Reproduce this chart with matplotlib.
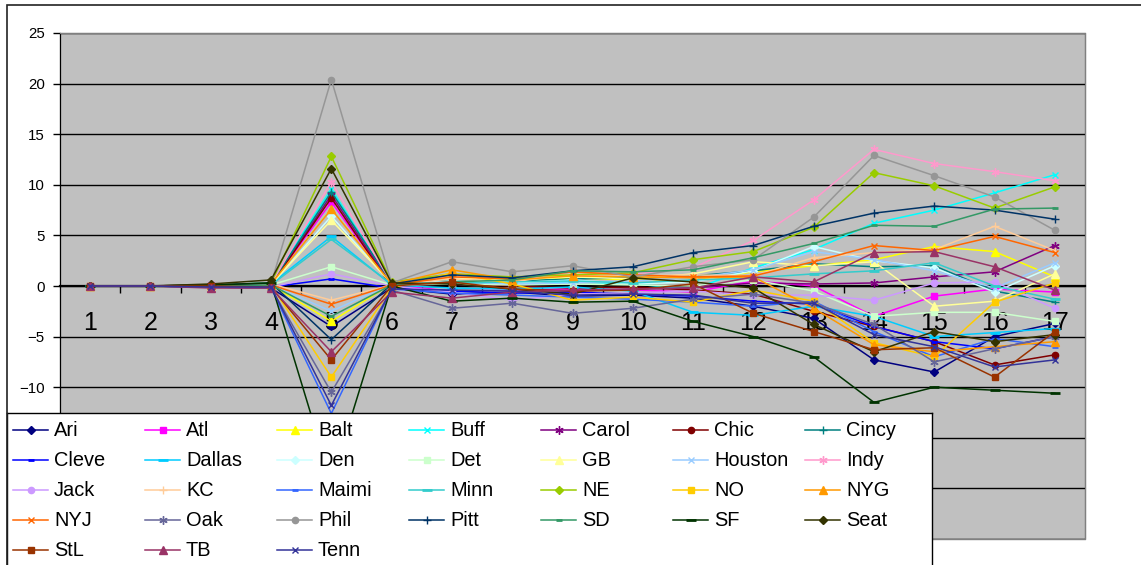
import matplotlib.pyplot as plt
from matplotlib import font_manager
from matplotlib.patches import Rectangle

plt.rcParams["font.family"] = ["Liberation Sans", "DejaVu Sans"]

W, H = 1141, 565

weeks = list(range(1, 18))

teams = ["Ari", "Atl", "Balt", "Buff", "Carol", "Chic", "Cincy",
         "Cleve", "Dallas", "Den", "Det", "GB", "Houston", "Indy",
         "Jack", "KC", "Maimi", "Minn", "NE", "NO", "NYG",
         "NYJ", "Oak", "Phil", "Pitt", "SD", "SF", "Seat",
         "StL", "TB", "Tenn"]

ari = [0, 0, -0.1, -0.2, -4.0, -0.2, -0.8, -0.6, -1.0, -0.9, -1.2, -2.0, -3.2, -7.3, -8.5, -5.0, -3.7]
atl = [0, 0, 0.1, 0.2, 8.3, 0.1, -0.5, -0.4, -0.3, -0.4, -0.6, 0.5, 0.0, -3.0, -1.0, -0.3, -0.6]
balt = [0, 0, 0, 0.1, -3.5, 0.2, 1.0, 0.5, 0.8, 0.6, 0.5, 1.4, 2.0, 2.6, 3.9, 3.4, 0.9]
buff = [0, 0, 0.1, 0.3, 9.6, 0.2, 0.3, 0.1, 0.4, 0.2, -0.3, 1.8, 3.6, 6.2, 7.5, 9.2, 11.0]
carol = [0, 0, 0, 0.1, 9.0, 0.1, 0.2, -0.3, -0.5, -0.3, -0.2, 0.3, 0.2, 0.3, 0.9, 1.4, 4.0]
chic = [0, 0, 0, 0.1, 8.7, -0.1, 0.3, 0.0, -0.2, -0.1, -0.4, -0.8, -2.5, -4.0, -5.5, -7.8, -6.8]
cincy = [0, 0, 0.1, 0.2, 9.3, 0.3, 0.6, 0.5, 0.7, 0.8, 1.0, 1.5, 2.2, 1.9, 2.0, -0.5, -1.6]
cleve = [0, 0, -0.1, -0.1, 0.7, -0.2, -0.5, -0.7, -0.6, -0.8, -1.0, -1.5, -1.8, -4.0, -5.5, -6.2, -5.0]
dallas = [0, 0, 0, 0.2, 4.9, 0.1, -0.2, -0.3, -0.1, -0.5, -2.6, -2.9, -2.0, -3.0, -5.0, -4.6, -4.2]
den = [0, 0, 0, 0.1, 6.9, 0.2, 0.5, 0.3, 0.6, 0.2, 0.4, 1.5, 3.9, 2.5, 1.8, -0.6, 2.0]
det = [0, 0, 0, 0.1, 1.9, 0.1, 0.2, 0.1, 0.2, 0.1, 0.0, 0.6, -0.5, -3.0, -2.6, -2.6, -3.5]
gb = [0, 0, 0, 0.2, 6.5, 0.3, 0.8, 0.6, 0.9, 0.7, 1.2, 2.4, 2.0, 2.4, -2.0, -1.5, 1.2]
houston = [0, 0, 0, 0.1, -2.5, 0.2, 0.4, 0.2, 0.3, 0.5, 0.8, 1.6, 3.4, 2.6, 1.5, -0.2, 2.3]
indy = [0, 0, 0.1, 0.2, 10.3, 0.3, 0.9, 0.8, 1.0, 1.2, 1.8, 4.5, 8.5, 13.5, 12.1, 11.3, 10.4]
jack = [0, 0, 0, -0.1, 1.2, 0.0, -0.6, -1.4, -0.8, -0.7, -0.5, -0.9, -0.9, -1.4, 0.3, 0.4, -2.2]
kc = [0, 0, 0.1, 0.2, -1.4, 0.1, 0.7, 0.4, 1.2, 1.0, 1.1, 1.0, 2.8, 3.3, 3.6, 5.9, 3.5]
maimi = [0, 0, -0.1, -0.2, -12.6, -0.3, -0.7, -0.9, -1.1, -1.3, -1.6, -2.0, -1.5, -4.5, -7.0, -5.2, -6.0]
minn = [0, 0, 0, 0.1, 4.6, 0.2, 0.3, 0.4, 0.5, 0.3, 0.6, 0.8, 1.2, 1.5, 2.3, 0.0, -1.3]
ne = [0, 0, 0.1, 0.3, 12.8, 0.4, 1.2, 0.9, 1.1, 1.3, 2.6, 3.4, 5.8, 11.2, 9.9, 7.7, 9.8]
no = [0, 0, 0, 0.1, -9.0, -0.2, 1.3, 0.2, -1.4, -1.1, -1.6, -0.4, -1.5, -5.6, -7.0, -1.6, 0.3]
nyg = [0, 0, 0.1, 0.2, 7.6, 0.2, 1.6, 0.6, 1.0, 0.9, 0.8, 0.9, -2.2, -5.8, -6.5, -6.0, -5.5]
nyj = [0, 0, 0, 0.1, -1.8, 0.1, 0.9, 0.7, 1.4, 1.1, 0.9, 1.0, 2.4, 4.0, 3.5, 4.9, 3.3]
oak = [0, 0, -0.1, -0.2, -10.5, -0.4, -2.2, -1.7, -2.7, -2.2, -1.3, -0.8, -1.7, -3.8, -7.5, -6.2, -5.0]
phil = [0, 0, 0.1, 0.2, 20.4, 0.3, 2.4, 1.4, 2.0, 0.9, 1.9, 2.6, 6.8, 12.9, 10.9, 8.8, 5.5]
pitt = [0, 0, 0.1, 0.3, -5.3, 0.2, 1.1, 0.8, 1.5, 1.9, 3.3, 4.0, 5.9, 7.2, 7.9, 7.5, 6.6]
sd = [0, 0, 0, 0.1, -3.0, 0.1, 0.4, 0.6, 1.5, 1.4, 1.6, 2.8, 4.2, 6.0, 5.9, 7.6, 7.7]
sf = [0, 0, 0.1, 0.3, -19.3, 0.0, -1.5, -1.2, -1.6, -1.5, -3.5, -5.0, -7.0, -11.5, -10.0, -10.3, -10.6]
seat = [0, 0, 0.2, 0.6, 11.6, 0.3, 0.2, -0.3, -0.8, 0.8, 0.4, -0.2, -3.8, -6.5, -4.5, -5.5, -4.8]
stl = [0, 0, 0, -0.1, -7.3, 0.0, 0.4, -0.3, -0.5, -0.4, 0.2, -2.7, -4.5, -6.3, -6.1, -9.0, -4.5]
tb = [0, 0, -0.2, -0.2, -6.5, -0.6, -1.2, -0.6, -0.4, -0.3, -0.2, 0.9, 0.4, 3.3, 3.4, 1.9, -0.4]
tenn = [0, 0, -0.1, -0.1, -11.8, -0.3, -0.4, -0.5, -0.9, -0.8, -0.9, -1.7, -1.7, -4.8, -6.0, -8.0, -7.3]

series = [ari, atl, balt, buff, carol, chic, cincy, cleve, dallas, den, det,
          gb, houston, indy, jack, kc, maimi, minn, ne, no, nyg, nyj, oak,
          phil, pitt, sd, sf, seat, stl, tb, tenn]

# old office palette, one colour per team in series order
colors = ["#000080", "#FF00FF", "#FFFF00", "#00FFFF", "#800080", "#800000",
          "#008080", "#0000FF", "#00CCFF", "#CCFFFF", "#CCFFCC", "#FFFF99",
          "#99CCFF", "#FF99CC", "#CC99FF", "#FFCC99", "#3366FF", "#33CCCC",
          "#99CC00", "#FFCC00", "#FF9900", "#FF6600", "#666699", "#969696",
          "#003366", "#339966", "#003300", "#333300", "#993300", "#993366",
          "#333399"]

# marker cycle: diamond, square, triangle, x, star, circle, plus, dash, long dash
MARKERS = [
    dict(marker="D", markersize=4),
    dict(marker="s", markersize=4.5),
    dict(marker="^", markersize=5.5),
    dict(marker="x", markersize=5, markeredgewidth=1),
    dict(marker=(6, 2, 0), markersize=6, markeredgewidth=1),
    dict(marker="o", markersize=4.5),
    dict(marker="+", markersize=6, markeredgewidth=1),
    dict(marker="_", markersize=5, markeredgewidth=2),
    dict(marker="_", markersize=7, markeredgewidth=2),
]

# week numbers use a condensed face when one is available
installed = {f.name for f in font_manager.fontManager.ttflist}
if "Liberation Sans Narrow" in installed:
    week_font, week_size = "Liberation Sans Narrow", 20
else:
    week_font, week_size = "Liberation Sans", 18

fig = plt.figure(figsize=(W / 100, H / 100), dpi=100)
fig.patch.set_facecolor("white")

# chart area frame
fig.add_artist(Rectangle((7 / W, -0.1), 1.2, 1.1 - 5 / H, transform=fig.transFigure,
                         fill=False, edgecolor="#222222", linewidth=1.2))

ax = fig.add_axes([60 / W, (H - 539) / H, 1025 / W, 506 / H])
ax.set_facecolor("#C0C0C0")
ax.set_axisbelow(True)
ax.patch.set_edgecolor("#808080")
ax.patch.set_linewidth(1.0)

for i, vals in enumerate(series):
    ax.plot(weeks, vals, color=colors[i], linewidth=1.1, zorder=3,
            markerfacecolor=colors[i], markeredgecolor=colors[i],
            **MARKERS[i % len(MARKERS)])

ax.set_xlim(0.5, 17.5)
ax.set_ylim(-25, 25)
ax.set_yticks(range(-25, 26, 5))
ax.yaxis.grid(True, color="black", linewidth=1.0)
ax.tick_params(axis="y", direction="out", length=5, width=1, labelsize=10.8, pad=6)

# category axis sits on zero with ticks between the weeks
ax.spines["bottom"].set_position(("data", 0))
ax.spines["bottom"].set_linewidth(1.6)
ax.spines["left"].set_color("black")
for s in ("top", "right"):
    ax.spines[s].set_color("#808080")
ax.set_xticks([w + 0.5 for w in weeks[:-1]])
ax.set_xticklabels([])
ax.set_xticks(weeks, minor=True)
ax.set_xticklabels([str(w) for w in weeks], minor=True,
                   fontfamily=week_font, fontsize=week_size)
ax.tick_params(axis="x", which="major", direction="out", length=5, width=1)
ax.tick_params(axis="x", which="minor", length=0, pad=18)

# legend box, row by row, seven entries per row
lax = fig.add_axes([7 / W, (H - 600) / H, 925 / W, (600 - 413) / H])
lax.set_xlim(7, 932)
lax.set_ylim(600, 413)
lax.set_xticks([])
lax.set_yticks([])
for s in lax.spines.values():
    s.set_color("black")
    s.set_linewidth(1.0)
for i, team in enumerate(teams):
    r, c = divmod(i, 7)
    x0 = 13 + 132 * c
    y = 430 + 30 * r
    lax.plot([x0, x0 + 17.5, x0 + 35], [y, y, y], color=colors[i], linewidth=1.1,
             markevery=[1], markerfacecolor=colors[i], markeredgecolor=colors[i],
             **MARKERS[i % len(MARKERS)])
    lax.text(x0 + 41, y + 1, team, va="center", ha="left", fontsize=14.4)

fig.savefig("out.png", dpi=100)
